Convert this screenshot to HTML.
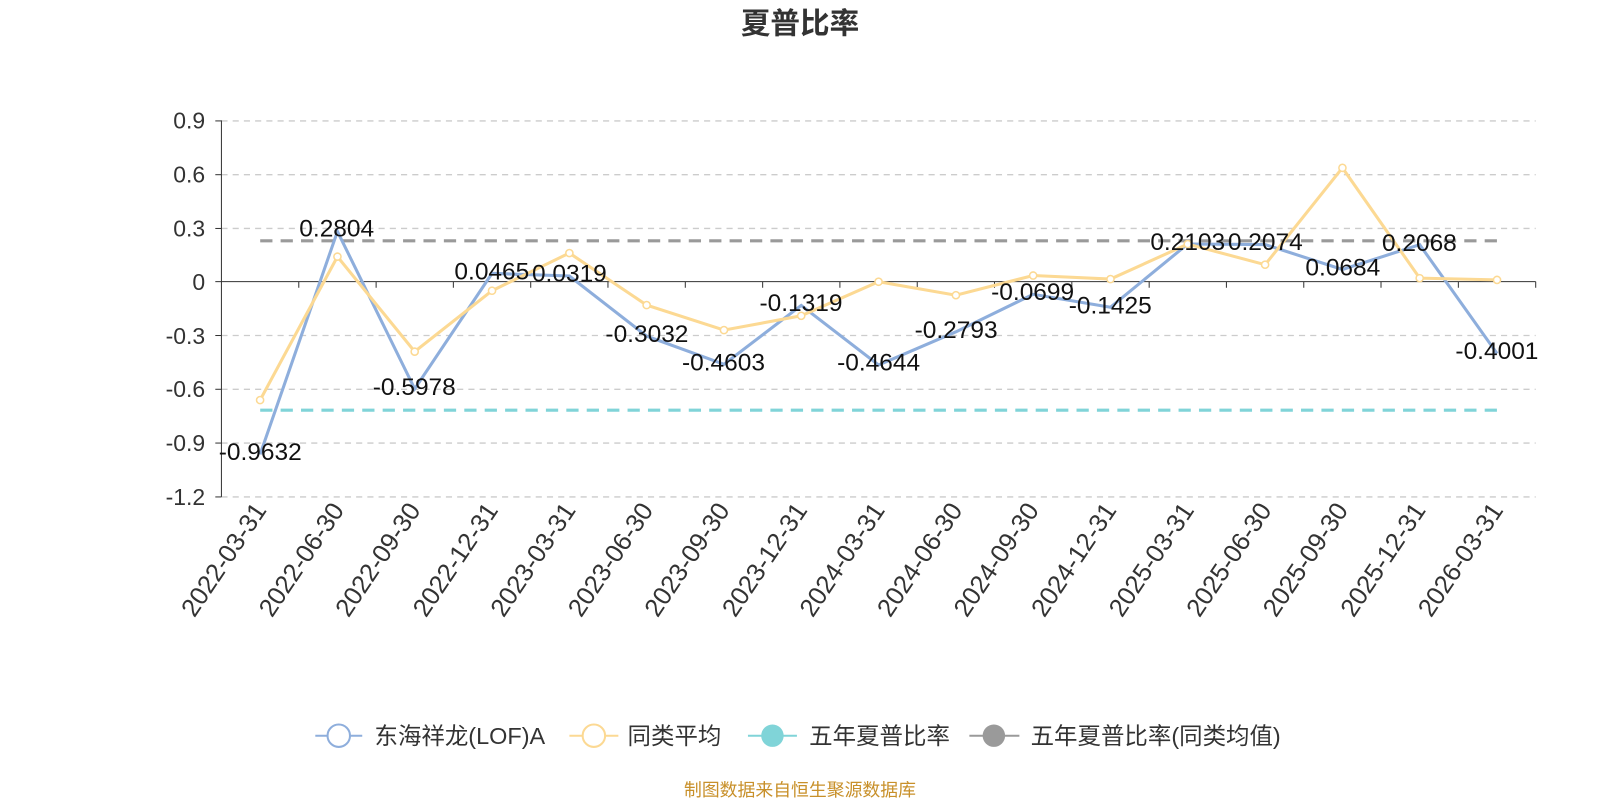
<!DOCTYPE html>
<html><head><meta charset="utf-8"><style>
body{margin:0;background:#fff;}
svg text{font-family:"Liberation Sans","Noto Sans CJK SC",sans-serif;}
</style></head><body>
<svg width="1600" height="800" xmlns="http://www.w3.org/2000/svg">
<g transform="scale(1.0204)">
<text x="784" y="33" text-anchor="middle" font-size="29" font-weight="bold" fill="#333">夏普比率</text>
<g stroke="#ccc" stroke-dasharray="6,5" stroke-width="1.3">
<line x1="217" x2="1505" y1="118.5" y2="118.5"/><line x1="217" x2="1505" y1="171.2" y2="171.2"/>
<line x1="217" x2="1505" y1="223.9" y2="223.9"/><line x1="217" x2="1505" y1="328.8" y2="328.8"/>
<line x1="217" x2="1505" y1="381.5" y2="381.5"/><line x1="217" x2="1505" y1="434.2" y2="434.2"/>
<line x1="217" x2="1505" y1="487" y2="487"/>
</g>
<line x1="217" x2="217" y1="118" y2="487" stroke="#333"/>
<line x1="217" x2="1505" y1="276" y2="276" stroke="#333"/>
<g stroke="#333">
<line x1="211" x2="217" y1="118.5" y2="118.5"/><line x1="211" x2="217" y1="171.2" y2="171.2"/><line x1="211" x2="217" y1="223.9" y2="223.9"/><line x1="211" x2="217" y1="276" y2="276"/><line x1="211" x2="217" y1="328.8" y2="328.8"/><line x1="211" x2="217" y1="381.5" y2="381.5"/><line x1="211" x2="217" y1="434.2" y2="434.2"/><line x1="211" x2="217" y1="487" y2="487"/>
<line x1="292.8" x2="292.8" y1="276" y2="282"/><line x1="368.6" x2="368.6" y1="276" y2="282"/><line x1="444.3" x2="444.3" y1="276" y2="282"/><line x1="520.1" x2="520.1" y1="276" y2="282"/><line x1="595.8" x2="595.8" y1="276" y2="282"/><line x1="671.6" x2="671.6" y1="276" y2="282"/><line x1="747.4" x2="747.4" y1="276" y2="282"/><line x1="823.1" x2="823.1" y1="276" y2="282"/><line x1="898.9" x2="898.9" y1="276" y2="282"/><line x1="974.6" x2="974.6" y1="276" y2="282"/><line x1="1050.4" x2="1050.4" y1="276" y2="282"/><line x1="1126.2" x2="1126.2" y1="276" y2="282"/><line x1="1201.9" x2="1201.9" y1="276" y2="282"/><line x1="1277.7" x2="1277.7" y1="276" y2="282"/><line x1="1353.4" x2="1353.4" y1="276" y2="282"/><line x1="1429.2" x2="1429.2" y1="276" y2="282"/><line x1="1505" x2="1505" y1="276" y2="282"/>
</g>
<g font-size="22.5" fill="#333" text-anchor="end">
<text x="201" y="126">0.9</text><text x="201" y="179">0.6</text><text x="201" y="232">0.3</text><text x="201" y="284">0</text><text x="201" y="337">-0.3</text><text x="201" y="389">-0.6</text><text x="201" y="442">-0.9</text><text x="201" y="495">-1.2</text>
</g>
<g font-size="25" fill="#333" text-anchor="end">
<text transform="translate(262,500) rotate(-56)">2022-03-31</text>
<text transform="translate(338,500) rotate(-56)">2022-06-30</text>
<text transform="translate(413,500) rotate(-56)">2022-09-30</text>
<text transform="translate(489,500) rotate(-56)">2022-12-31</text>
<text transform="translate(565,500) rotate(-56)">2023-03-31</text>
<text transform="translate(641,500) rotate(-56)">2023-06-30</text>
<text transform="translate(716,500) rotate(-56)">2023-09-30</text>
<text transform="translate(792,500) rotate(-56)">2023-12-31</text>
<text transform="translate(868,500) rotate(-56)">2024-03-31</text>
<text transform="translate(944,500) rotate(-56)">2024-06-30</text>
<text transform="translate(1019,500) rotate(-56)">2024-09-30</text>
<text transform="translate(1095,500) rotate(-56)">2024-12-31</text>
<text transform="translate(1171,500) rotate(-56)">2025-03-31</text>
<text transform="translate(1247,500) rotate(-56)">2025-06-30</text>
<text transform="translate(1322,500) rotate(-56)">2025-09-30</text>
<text transform="translate(1398,500) rotate(-56)">2025-12-31</text>
<text transform="translate(1474,500) rotate(-56)">2026-03-31</text>
</g>
<line x1="255" x2="1467" y1="402" y2="402" stroke="#80d4d8" stroke-width="3" stroke-dasharray="12,8"/>
<line x1="255" x2="1467" y1="236" y2="236" stroke="#9a9a9a" stroke-width="3" stroke-dasharray="12,8"/>
<polyline fill="none" stroke="#8eaedc" stroke-width="3" points="254.9,445.3 330.7,226.8 406.4,381.1 482.2,267.9 558,270.5 633.7,329.4 709.5,357 785.2,299.3 861,357.7 936.8,325.2 1012.5,288.4 1088.3,301.1 1164,239.1 1239.8,239.7 1315.6,264.1 1391.3,239.8 1467.1,346.4"/>
<polyline fill="none" stroke="#fcd993" stroke-width="3" points="254.9,392.1 330.7,251.5 406.4,344.6 482.2,284.9 558,248 633.7,299 709.5,323.5 785.2,309.5 861,276.1 936.8,289.3 1012.5,270 1088.3,273.5 1164,239.2 1239.8,259.4 1315.6,164.5 1391.3,272.6 1467.1,274.3"/>
<g fill="#fff" stroke="#fcd993" stroke-width="1.5">
<circle cx="254.9" cy="392.1" r="3.5"/><circle cx="330.7" cy="251.5" r="3.5"/><circle cx="406.4" cy="344.6" r="3.5"/><circle cx="482.2" cy="284.9" r="3.5"/><circle cx="558" cy="248" r="3.5"/><circle cx="633.7" cy="299" r="3.5"/><circle cx="709.5" cy="323.5" r="3.5"/><circle cx="785.2" cy="309.5" r="3.5"/><circle cx="861" cy="276.1" r="3.5"/><circle cx="936.8" cy="289.3" r="3.5"/><circle cx="1012.5" cy="270" r="3.5"/><circle cx="1088.3" cy="273.5" r="3.5"/><circle cx="1164" cy="239.2" r="3.5"/><circle cx="1239.8" cy="259.4" r="3.5"/><circle cx="1315.6" cy="164.5" r="3.5"/><circle cx="1391.3" cy="272.6" r="3.5"/><circle cx="1467.1" cy="274.3" r="3.5"/>
</g>
<g font-size="24" fill="#111" text-anchor="middle">
<text x="255" y="451">-0.9632</text><text x="330" y="232">0.2804</text><text x="406" y="387">-0.5978</text><text x="482" y="274">0.0465</text><text x="558" y="276">0.0319</text><text x="634" y="335">-0.3032</text><text x="709" y="363">-0.4603</text><text x="785" y="305">-0.1319</text><text x="861" y="363">-0.4644</text><text x="937" y="331">-0.2793</text><text x="1012" y="294">-0.0699</text><text x="1088" y="307">-0.1425</text><text x="1164" y="245">0.2103</text><text x="1240" y="245">0.2074</text><text x="1316" y="270">0.0684</text><text x="1391" y="246">0.2068</text><text x="1467" y="352">-0.4001</text>
</g>
<g font-size="23" fill="#333">
<line x1="309" x2="355" y1="721" y2="721" stroke="#8eaedc" stroke-width="2"/><circle cx="332" cy="721" r="11" fill="#fff" stroke="#8eaedc" stroke-width="2"/>
<text x="367" y="729">东海祥龙(LOF)A</text>
<line x1="558" x2="606" y1="721" y2="721" stroke="#fcd993" stroke-width="2"/><circle cx="582" cy="721" r="11" fill="#fff" stroke="#fcd993" stroke-width="2"/>
<text x="615" y="729">同类平均</text>
<line x1="733" x2="781" y1="721" y2="721" stroke="#80d4d8" stroke-width="2"/><circle cx="757" cy="721" r="11" fill="#80d4d8"/>
<text x="793" y="729">五年夏普比率</text>
<line x1="950" x2="999" y1="721" y2="721" stroke="#9a9a9a" stroke-width="2"/><circle cx="974" cy="721" r="11" fill="#9a9a9a"/>
<text x="1010" y="729">五年夏普比率(同类均值)</text>
</g>
<text x="784" y="780" text-anchor="middle" font-size="17.5" fill="#c8902a">制图数据来自恒生聚源数据库</text>
</g>
</svg>
</body></html>
